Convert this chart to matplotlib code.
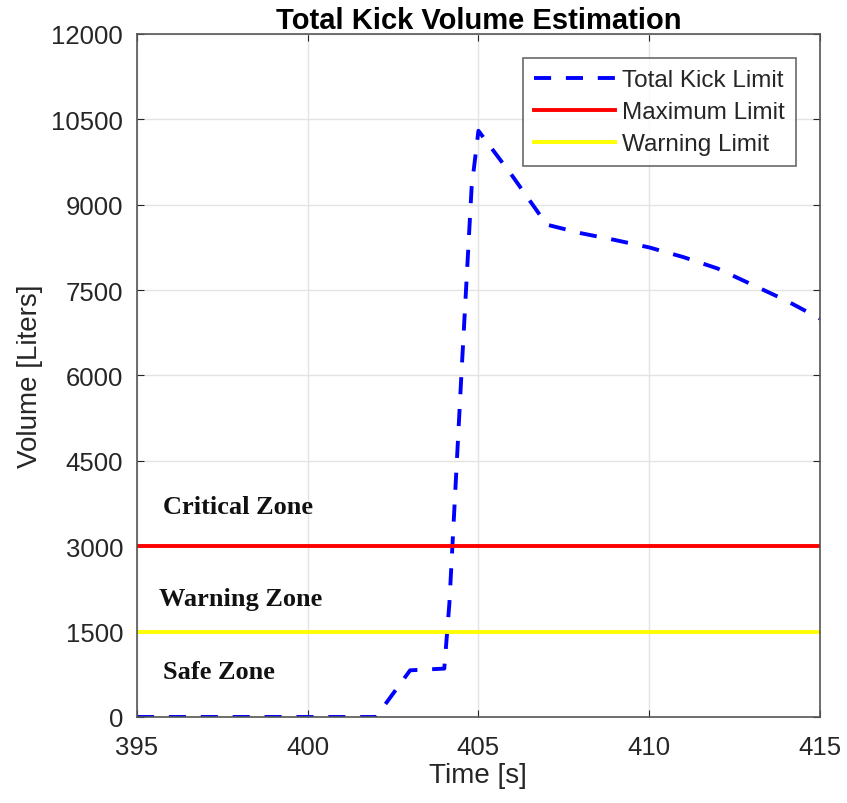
import matplotlib
matplotlib.use("Agg")
import matplotlib.pyplot as plt

# data
time_s = [395, 396, 397, 398, 399, 400, 401, 402, 403, 404, 404.15, 404.5, 404.8, 405,
          406, 407, 408, 409, 410, 411, 412, 413, 414, 415]
kick_volume = [0, 0, 0, 0, 0, 0, 0, 0, 820, 850, 2000, 6000, 9300, 10300,
               9500, 8650, 8500, 8380, 8250, 8080, 7880, 7600, 7320, 7000]
max_limit = 3000
warn_limit = 1500

zone_labels = ["Critical Zone", "Warning Zone", "Safe Zone"]
zone_x = [395.75, 395.65, 395.75]
zone_y = [3700, 2080, 800]

x_ticks = [395, 400, 405, 410, 415]
y_ticks = [0, 1500, 3000, 4500, 6000, 7500, 9000, 10500, 12000]

plt.rcParams["font.family"] = ["Liberation Sans", "DejaVu Sans"]
txt = "#262626"

fig = plt.figure(figsize=(8.47, 8.04), dpi=100)
ax = fig.add_axes([0.1617, 0.107, 0.8063, 0.8495])

ax.plot(time_s, kick_volume, "--", color="#0000ff", lw=2.8, dashes=(4.4, 3.8),
        label="Total Kick Limit")
ax.axhline(max_limit, color="#ff0000", lw=2.8, label="Maximum Limit")
ax.axhline(warn_limit, color="#ffff00", lw=2.8, label="Warning Limit")

for s, zx, zy in zip(zone_labels, zone_x, zone_y):
    ax.text(zx, zy, s, family="Liberation Serif", fontweight="bold", fontsize=19,
            va="center", ha="left", color="#111111")

ax.set_xlim(395, 415)
ax.set_ylim(0, 12000)
ax.set_xticks(x_ticks)
ax.set_yticks(y_ticks)
ax.grid(True, color="#e3e3e3", lw=1)
ax.set_axisbelow(True)
ax.tick_params(direction="in", length=5, labelsize=18.5, colors=txt, top=True, right=True)
ax.tick_params(axis="x", pad=13)
ax.tick_params(axis="y", pad=10)
for sp in ax.spines.values():
    sp.set_color("#555555")
    sp.set_linewidth(1.2)

ax.set_xlabel("Time [s]", fontsize=20, color=txt, labelpad=2)
ax.set_ylabel("Volume [Liters]", fontsize=20, color=txt, labelpad=6)
ax.set_title("Total Kick Volume Estimation", fontsize=21, fontweight="bold", pad=4)

leg = ax.legend(loc="upper right", fontsize=17.5, handlelength=3.3, handletextpad=0.3,
                frameon=True, fancybox=False, borderaxespad=1.0, labelspacing=0.41,
                borderpad=0.45)
leg.get_frame().set_edgecolor("#444444")
leg.get_frame().set_linewidth(1.2)
for t in leg.get_texts():
    t.set_color(txt)

fig.savefig("out.png", dpi=100)
